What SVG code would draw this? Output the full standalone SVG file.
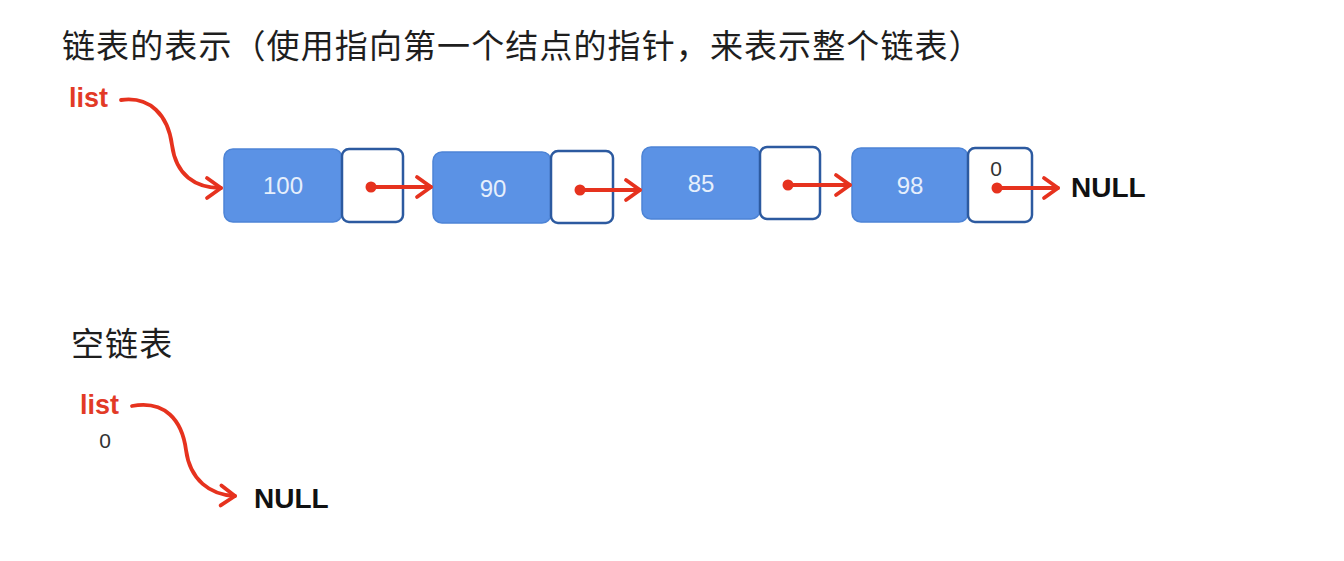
<svg xmlns="http://www.w3.org/2000/svg" width="1344" height="561" viewBox="0 0 1344 561">
<style>
.title{font-family:"Noto Sans CJK SC","Noto Sans",sans-serif;font-size:33px;fill:#1e1e1e;letter-spacing:1.1px}
.data{fill:#5b92e5;stroke:#4d84d6;stroke-width:1.5}
.ptr{fill:#fff;stroke:#2c5aa0;stroke-width:2.5}
.num{font-family:"Liberation Sans",Arial,sans-serif;font-size:24px;fill:#e6effc;text-anchor:middle}
.lbl{font-family:"Liberation Sans",Arial,sans-serif;font-weight:bold;font-size:27px;fill:#e23a26}
.null{font-family:"Liberation Sans",Arial,sans-serif;font-weight:bold;font-size:28px;fill:#111}
.zero{font-family:"Liberation Sans",Arial,sans-serif;font-size:21px;fill:#333;text-anchor:middle}
.link{fill:none;stroke:#e6321e;stroke-width:3.8;stroke-linecap:round}
.dot{fill:#e6321e}
</style>
<defs>
<marker id="ah" markerUnits="userSpaceOnUse" markerWidth="22" markerHeight="26" viewBox="0 0 22 26" refX="19" refY="13" orient="auto">
<path d="M5,3 L19,13 L5,23" fill="none" stroke="#e6321e" stroke-width="3.8" stroke-linecap="round" stroke-linejoin="round"/>
</marker>
</defs>
<rect width="1344" height="561" fill="#fff"/>
<text class="title" x="62" y="58">链表的表示（使用指向第一个结点的指针，来表示整个链表）</text>
<text class="title" x="71" y="356">空链表</text>

<g id="list-top"><text class="lbl" x="69" y="107">list</text></g>

<g id="node1">
<rect class="data" x="224" y="149" width="118" height="73" rx="9"/>
<rect class="ptr" x="342" y="149" width="61" height="73" rx="7"/>
<text class="num" x="283" y="194">100</text>
</g>
<g id="node2">
<rect class="data" x="433" y="152" width="118" height="71" rx="9"/>
<rect class="ptr" x="551" y="151" width="62" height="72" rx="7"/>
<text class="num" x="493" y="197">90</text>
</g>
<g id="node3">
<rect class="data" x="642" y="147" width="118" height="72" rx="9"/>
<rect class="ptr" x="760" y="147" width="60" height="72" rx="7"/>
<text class="num" x="701" y="192">85</text>
</g>
<g id="node4">
<rect class="data" x="852" y="148" width="116" height="74" rx="9"/>
<rect class="ptr" x="968" y="148" width="64" height="74" rx="7"/>
<text class="num" x="910" y="194">98</text>
<text class="zero" x="996" y="176">0</text>
</g>
<g id="null-top"><text class="null" x="1071" y="197">NULL</text></g>

<g id="list-empty">
<text class="lbl" x="80" y="414">list</text>
<text class="zero" x="105" y="448">0</text>
</g>
<g id="null-bottom"><text class="null" x="254" y="508">NULL</text></g>

<g id="connectors">
<path class="link" d="M121,100 C150,96 168,115 172,145 C176,175 195,188 221,188" marker-end="url(#ah)"/>
<line class="link" x1="371" y1="187" x2="431" y2="187" marker-end="url(#ah)"/>
<line class="link" x1="580" y1="190" x2="640" y2="190" marker-end="url(#ah)"/>
<line class="link" x1="788" y1="185" x2="850" y2="185" marker-end="url(#ah)"/>
<line class="link" x1="997" y1="188" x2="1058" y2="188" marker-end="url(#ah)"/>
<circle class="dot" cx="371" cy="187" r="5.5"/>
<circle class="dot" cx="580" cy="190" r="5.5"/>
<circle class="dot" cx="788" cy="185" r="5.5"/>
<circle class="dot" cx="997" cy="188" r="5.5"/>
<path class="link" d="M132,406 C165,400 182,420 186,450 C190,480 210,495 235,496" marker-end="url(#ah)"/>
</g>
</svg>
